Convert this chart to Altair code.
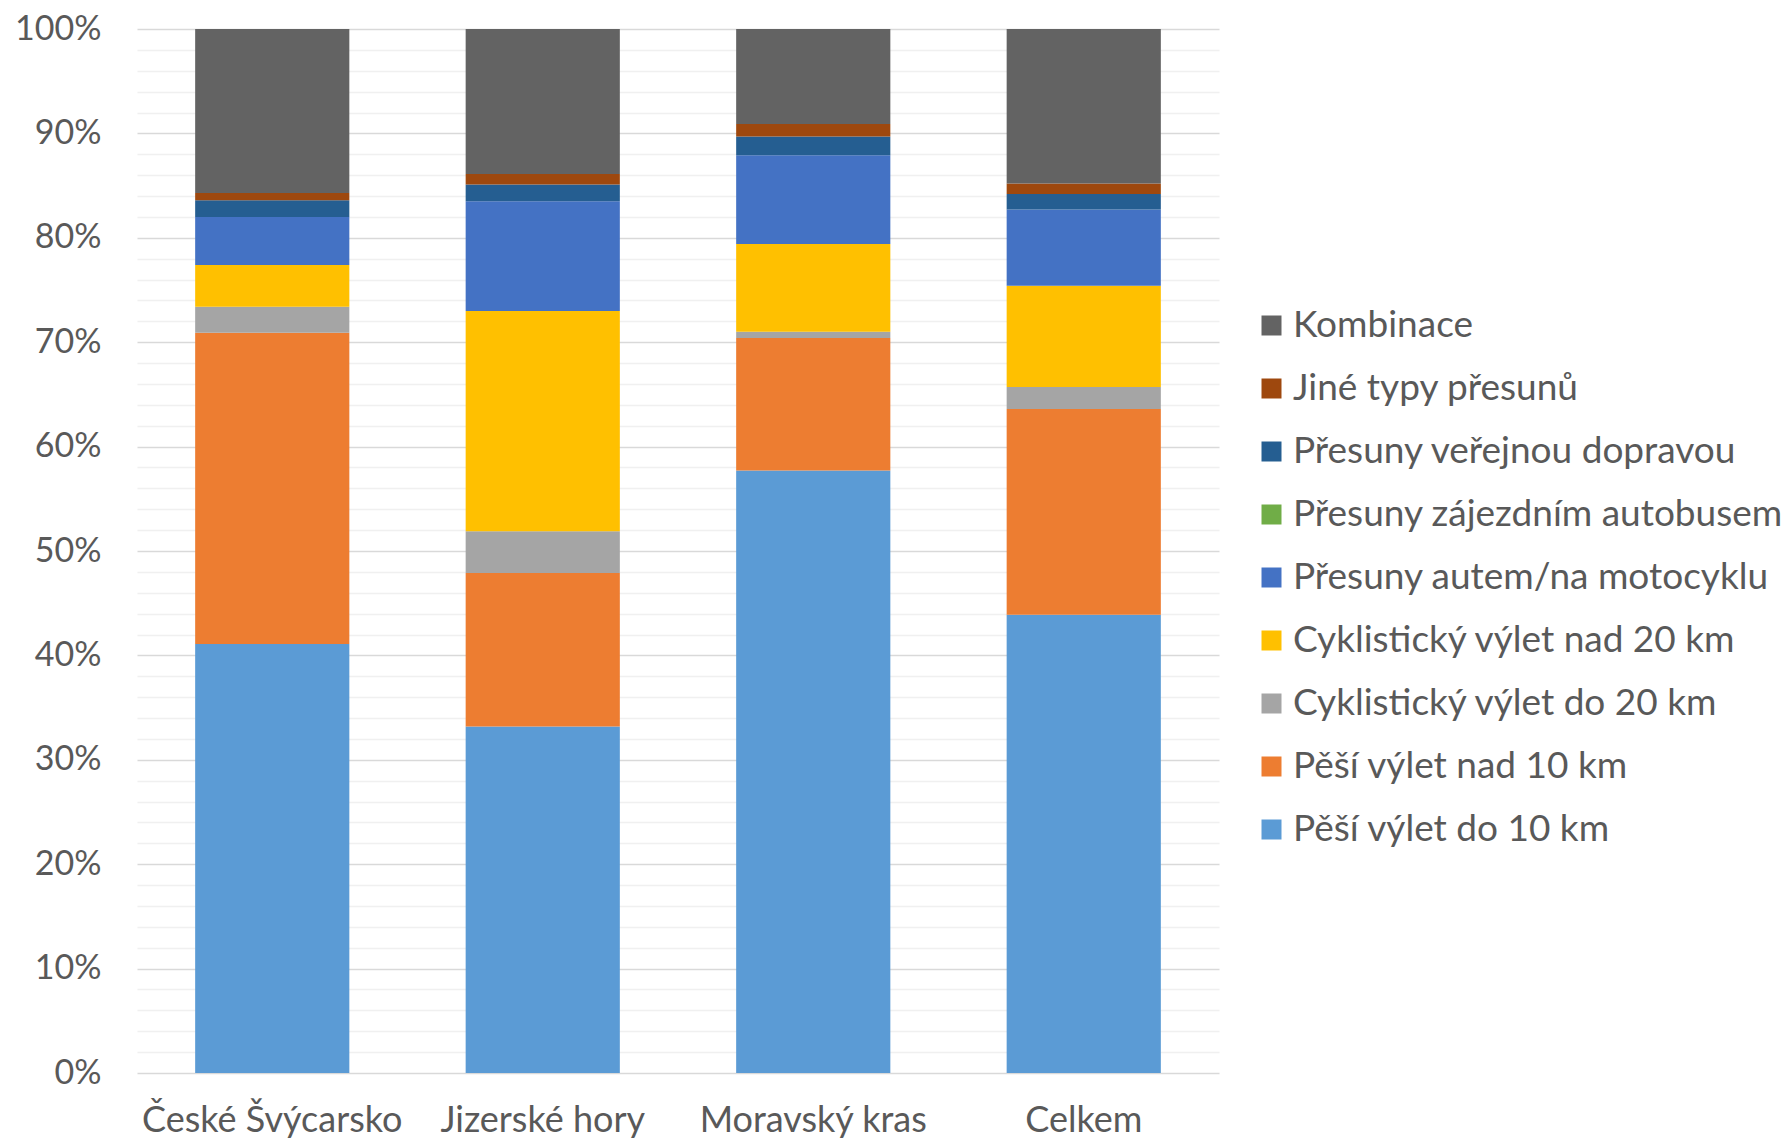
import altair as alt
import pandas as pd

regions = ["České Švýcarsko", "Jizerské hory", "Moravský kras", "Celkem"]

# categories from bottom of stack to top
categories = [
    "Pěší výlet do 10 km",
    "Pěší výlet nad 10 km",
    "Cyklistický výlet do 20 km",
    "Cyklistický výlet nad 20 km",
    "Přesuny autem/na motocyklu",
    "Přesuny zájezdním autobusem",
    "Přesuny veřejnou dopravou",
    "Jiné typy přesunů",
    "Kombinace",
]
colors = ["#5B9BD5", "#ED7D31", "#A5A5A5", "#FFC000", "#4472C4",
          "#70AD47", "#255E91", "#9E480E", "#636363"]

# values (%) per region, in the category order above
pesi_do_10 = [41.1, 33.2, 57.7, 43.9]
pesi_nad_10 = [29.8, 14.7, 12.7, 19.7]
cyklo_do_20 = [2.5, 4.0, 0.6, 2.1]
cyklo_nad_20 = [4.0, 21.1, 8.4, 9.7]
auto_moto = [4.6, 10.5, 8.5, 7.3]
zajezd_bus = [0.0, 0.0, 0.0, 0.0]
verejna = [1.6, 1.6, 1.8, 1.5]
jine = [0.7, 1.0, 1.2, 1.0]
kombinace = [15.7, 13.9, 9.1, 14.8]

series = [pesi_do_10, pesi_nad_10, cyklo_do_20, cyklo_nad_20, auto_moto,
          zajezd_bus, verejna, jine, kombinace]

rows = []
for ci, (cat, vals) in enumerate(zip(categories, series)):
    for r, v in zip(regions, vals):
        rows.append({"region": r, "kategorie": cat, "hodnota": v, "poradi": ci})
df = pd.DataFrame(rows)

FONT = "Lato"
TXT = "#595959"

legend_domain = categories[::-1]
legend_range = colors[::-1]

chart = alt.Chart(df).mark_bar().encode(
    x=alt.X("region:N", sort=regions, title=None,
            scale=alt.Scale(paddingInner=0.43, paddingOuter=0.215),
            axis=alt.Axis(labelAngle=0, ticks=False, domain=False,
                          labelFontSize=36, labelColor=TXT, labelFont=FONT,
                          labelPadding=30, labelLimit=600, grid=False)),
    y=alt.Y("hodnota:Q", stack="zero", title=None,
            scale=alt.Scale(domain=[0, 100], nice=False),
            axis=alt.Axis(values=list(range(0, 101, 2)),
                          labelExpr="datum.value % 10 === 0 ? datum.value + '%' : ''",
                          labelOverlap=False, ticks=False, domain=False,
                          labelFontSize=34, labelColor=TXT, labelFont=FONT,
                          labelPadding=36, grid=True,
                          gridColor={"condition": {"test": "datum.value % 10 === 0",
                                                   "value": "#d9d9d9"},
                                     "value": "#f0f0f0"},
                          gridWidth=1.5)),
    color=alt.Color("kategorie:N",
                    scale=alt.Scale(domain=legend_domain, range=legend_range),
                    legend=alt.Legend(title=None, orient="none",
                                      legendX=1116, legendY=278,
                                      symbolType="square", symbolSize=400,
                                      symbolStrokeWidth=0,
                                      labelFontSize=37, labelColor=TXT,
                                      labelFont=FONT, labelLimit=800,
                                      rowPadding=25, labelOffset=3)),
    order=alt.Order("poradi:Q", sort="ascending"),
).properties(
    width=1082,
    height=1044,
    autosize=alt.AutoSizeParams(type="none"),
    padding={"left": 129, "top": 21, "right": 563, "bottom": 66},
    background="white",
).configure_view(stroke=None)

chart.save("out.html", embed_options={"renderer": "svg", "actions": False})
